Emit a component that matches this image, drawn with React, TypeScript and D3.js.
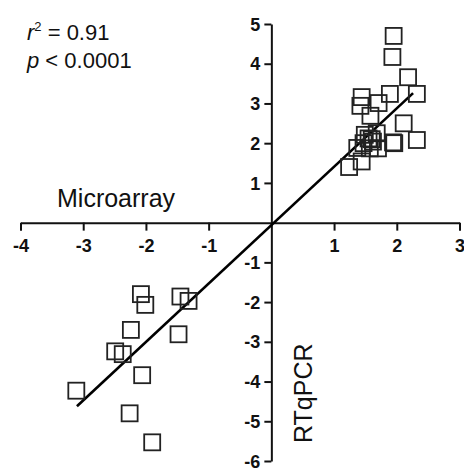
import { useEffect, useRef } from 'react';
import * as d3 from 'd3';

// log ratios
const microarray = [
  -2.08, -2.01, -1.45, -1.32, -2.24, -1.48, -2.49, -2.37, -2.06, -3.11, -2.26, -1.9,
  1.95, 1.93, 2.18, 2.32, 1.89, 1.44, 1.42, 1.71, 1.58, 2.11, 2.32, 1.94, 1.96,
  1.49, 1.68, 1.62, 1.47, 1.57, 1.7, 1.55, 1.6, 1.37, 1.44, 1.24,
];
const rtqpcr = [
  -1.8, -2.07, -1.86, -1.97, -2.7, -2.81, -3.24, -3.31, -3.84, -4.23, -4.8, -5.53,
  4.7, 4.17, 3.66, 3.24, 3.24, 3.16, 2.94, 3.01, 2.69, 2.5, 2.08, 2.02, 2.0,
  2.21, 2.25, 2.04, 2.0, 1.87, 1.87, 2.12, 2.1, 1.88, 1.54, 1.4,
];
const fitX = [-3.1, 2.26];
const fitY = [-4.62, 3.26];
const xTicks = [-4, -3, -2, -1, 1, 2, 3];
const yTicks = [-6, -5, -4, -3, -2, -1, 1, 2, 3, 4, 5];

const W = 464;
const H = 469;
const FONT = 'Liberation Sans, Arial, sans-serif';

export default function App() {
  const xAxisRef = useRef<SVGGElement>(null);
  const yAxisRef = useRef<SVGGElement>(null);

  const x = d3.scaleLinear().domain([-4, 3]).range([20.5, 459.5]);
  const y = d3.scaleLinear().domain([-6, 5]).range([461, 24]);

  useEffect(() => {
    const gx = d3.select(xAxisRef.current);
    gx.selectAll('*').remove();
    gx.call(
      d3.axisBottom(x).tickValues(xTicks).tickSizeInner(8).tickSizeOuter(0).tickPadding(9)
        .tickFormat((d) => String(d))
    );
    const gy = d3.select(yAxisRef.current);
    gy.selectAll('*').remove();
    gy.call(
      d3.axisLeft(y).tickValues(yTicks).tickSizeInner(7).tickSizeOuter(0).tickPadding(4)
        .tickFormat((d) => String(d))
    );
    [gx, gy].forEach((g) => {
      g.select('.domain').attr('stroke', '#111').attr('stroke-width', 2);
      g.selectAll('.tick line').attr('stroke', '#111').attr('stroke-width', 2);
      g.selectAll('.tick text')
        .attr('fill', '#111')
        .style('font-family', FONT)
        .style('font-size', '18px')
        .style('font-weight', 'bold');
    });
    gy.selectAll('.tick text').attr('dy', '0.34em');
  }, []);

  const side = 16;
  const line = d3.line<number>().x((d) => x(d)).y((_, i) => y(fitY[i]));

  return (
    <svg width={W} height={H} style={{ position: 'absolute', left: 0, top: 0, background: '#fff' }}>
      <g ref={xAxisRef} transform={`translate(0,${y(0)})`} />
      <g ref={yAxisRef} transform={`translate(${x(0)},0)`} />
      <path d={line(fitX) || ''} fill="none" stroke="#000" strokeWidth={2.6} />
      {microarray.map((mx, i) => (
        <rect
          key={i}
          x={x(mx) - side / 2}
          y={y(rtqpcr[i]) - side / 2}
          width={side}
          height={side}
          fill="none"
          stroke="#222"
          strokeWidth={1.8}
        />
      ))}
      <text x={57} y={207} fontFamily={FONT} fontSize={25} fill="#111">Microarray</text>
      <text
        transform="translate(311.5,443) rotate(-90)"
        fontFamily={FONT}
        fontSize={25}
        fill="#111"
      >
        RTqPCR
      </text>
      <text x={27} y={40} fontFamily={FONT} fontSize={22} fill="#111">
        <tspan fontStyle="italic">r</tspan>
        <tspan fontSize={13} dy={-9}>2</tspan>
        <tspan dy={9}> = 0.91</tspan>
      </text>
      <text x={27} y={68} fontFamily={FONT} fontSize={22} fill="#111">
        <tspan fontStyle="italic">p</tspan> &lt; 0.0001
      </text>
    </svg>
  );
}
